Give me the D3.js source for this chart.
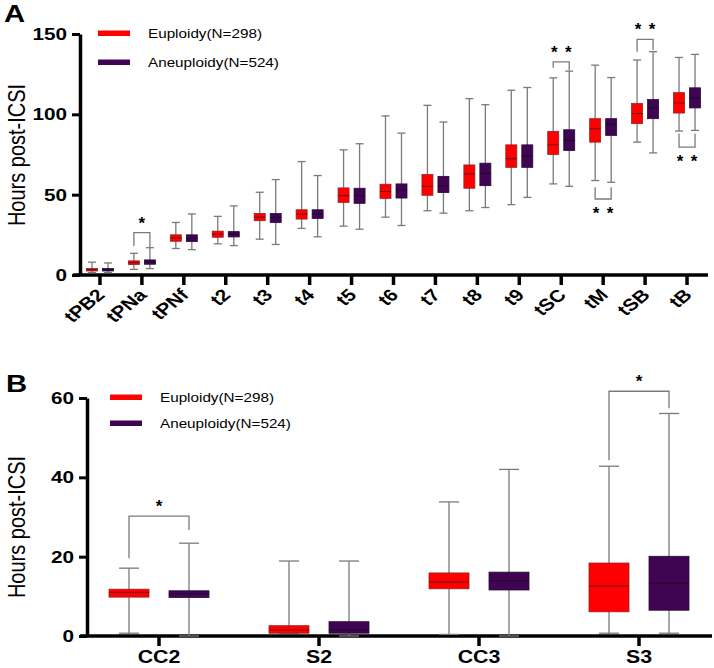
<!DOCTYPE html>
<html>
<head>
<meta charset="utf-8">
<script src="https://cdn.jsdelivr.net/npm/d3@7"></script>
<style>
body { margin: 0; background: #fff; }
text { font-family: "Liberation Sans", Arial, sans-serif; fill: #000; }
</style>
</head>
<body>
<script>
// panel A: time points, five-number summaries [min, q1, median, q3, max]
var stagesA = ["tPB2","tPNa","tPNf","t2","t3","t4","t5","t6","t7","t8","t9","tSC","tM","tSB","tB"];
var euploidyA = [
  [1.5, 2.5, 3.3, 4, 8], [3.5, 6.5, 7.7, 8.8, 13.5], [16.5, 21, 23.1, 25, 32.7],
  [19.4, 23.5, 25.4, 27.3, 36.5], [22.3, 33.8, 36, 38.3, 51.5], [29, 34.8, 37.9, 40.6, 70.6],
  [30.4, 45.2, 49.4, 54.2, 77.9], [36, 47.7, 52, 56.5, 99], [40, 49.6, 55.2, 62.5, 105.6],
  [40, 54, 62.9, 68.5, 109.8], [43.8, 67, 72.3, 81, 115], [56.7, 75, 81, 89.4, 122.7],
  [58.8, 82.7, 91, 97.3, 130.6], [82.7, 94.2, 100.4, 106.7, 133.8], [89.6, 100.8, 107, 113.5, 135.4]
];
var aneuploidyA = [
  [1.5, 2.5, 3.3, 4, 7.5], [4, 6.7, 8.1, 9.4, 17], [15.8, 20.8, 22.9, 25, 38],
  [18.3, 23.7, 25.4, 27, 43], [19, 32.7, 36, 38.3, 59.4], [23.8, 35.2, 38, 40.6, 61.9],
  [28.5, 44.6, 49.4, 54, 81.7], [30.8, 47.9, 52.9, 56.7, 88.3], [38.5, 51.3, 55.6, 61.4, 95.2],
  [42, 55.6, 63.3, 69.6, 106], [48.3, 67, 74, 81, 116.7], [55.2, 77.5, 83.8, 90.4, 126.9],
  [57.7, 86.9, 93.8, 97.3, 122.9], [76, 97.3, 104, 109.2, 139], [90, 104, 110.2, 116.5, 137.3]
];
var ticksA = [0, 50, 100, 150];
// significance brackets: stage, stars, bar level, leg ends (euploidy, aneuploidy)
var sigStagesA = ["tPNa","tSC","tM","tSB","tB"];
var sigLabelsA = ["*","**","**","**","**"];
var sigBarA = [26.4, 132.7, 47.3, 146.7, 79.6];
var sigEuA = [18, 129, 54.6, 139, 88];
var sigAnA = [17.5, 127.5, 54.6, 140, 88];

// panel B: intervals
var stagesB = ["CC2","S2","CC3","S3"];
var euploidyB = [[0.7, 9.8, 11, 11.8, 17.1], [0.7, 0.7, 1.5, 2.6, 18.9], [0.4, 11.9, 13.6, 15.9, 33.8], [0.7, 6.1, 12.6, 18.4, 42.8]];
var aneuploidyB = [[0, 9.7, 10.7, 11.4, 23.4], [0, 0.7, 1.5, 3.6, 18.9], [0, 11.6, 13.9, 16.1, 42], [0.7, 6.5, 13.3, 20.1, 56.1]];
var ticksB = [0, 20, 40, 60];
var sigStagesB = ["CC2","S3"];
var sigLabelsB = ["*","*"];
var sigBarB = [30.2, 61.7];
var sigEuB = [19.6, 44.3];
var sigAnB = [26.7, 57.4];

var groups = ["Euploidy(N=298)","Aneuploidy(N=524)"];
var colors = ["#ff0000","#3f0553"];
var SX = 1.22; // the figure is a bit stretched horizontally

var svg = d3.select("body").append("svg").attr("width",714).attr("height",668);

function stretchText(g, x, y, str, rot) {
  return g.append("text")
    .attr("transform","translate("+x+","+y+") scale("+SX+",1)"+(rot ? " rotate("+rot+")" : ""))
    .text(str);
}

function panel(opt) {
  var g = svg.append("g");
  var y = d3.scaleLinear().domain(opt.domain).range([opt.y0, opt.y1]);
  var x = d3.scaleBand().domain(opt.stages).range(opt.xr);
  var cx = function(s){ return x(s) + x.bandwidth()/2; };

  // y axis
  var ya = g.append("g").attr("transform","translate("+opt.ax+",0)")
    .call(d3.axisLeft(y).tickValues(opt.ticks).tickSize(8).tickSizeOuter(0).tickPadding(0));
  ya.select(".domain").attr("stroke","#000").attr("stroke-width",3.5);
  ya.selectAll(".tick line").attr("stroke","#000").attr("stroke-width",3);
  ya.selectAll(".tick text").attr("x",null)
    .attr("transform","translate(-13,0) scale("+SX+",1)")
    .attr("font-size",17).attr("font-weight","bold")
    .attr("font-family","Liberation Sans, Arial, sans-serif");

  // x axis
  var xa = g.append("g").attr("transform","translate(0,"+opt.y0+")")
    .call(d3.axisBottom(x).tickSize(opt.xtick).tickSizeOuter(0).tickFormat(""));
  xa.select(".domain").remove();
  xa.selectAll(".tick line").attr("stroke","#000").attr("stroke-width",3.5);
  g.append("line").attr("x1",opt.ax-7).attr("x2",opt.xend)
    .attr("y1",opt.y0).attr("y2",opt.y0).attr("stroke","#000").attr("stroke-width",3.5);

  // x labels
  opt.stages.forEach(function(s){
    var t;
    if (opt.rotate) {
      t = stretchText(g, cx(s)+6, opt.y0+21, s, -45).attr("text-anchor","end").attr("font-size",17);
    } else {
      t = stretchText(g, cx(s), opt.y0+27, s).attr("text-anchor","middle").attr("font-size",17.5);
    }
    t.attr("font-weight","bold");
  });

  // y label
  stretchText(g, opt.labX, opt.labY, "Hours post-ICSI", -90)
    .attr("text-anchor","middle").attr("font-size",20);

  // boxes
  [opt.eu, opt.an].forEach(function(data, k){
    var off = k === 0 ? -opt.off : opt.off;
    var bg = g.append("g").selectAll("g").data(data).enter().append("g")
      .attr("transform",function(d,i){ return "translate("+(cx(opt.stages[i])+off)+",0)"; });
    bg.append("line").attr("x1",0).attr("x2",0)
      .attr("y1",function(d){return y(d[0]);}).attr("y2",function(d){return y(d[4]);})
      .attr("stroke","#7a7a7a").attr("stroke-width",1.3);
    [0,4].forEach(function(j){
      bg.append("line").attr("x1",-opt.cap/2).attr("x2",opt.cap/2)
        .attr("y1",function(d){return y(d[j]);}).attr("y2",function(d){return y(d[j]);})
        .attr("stroke","#7a7a7a").attr("stroke-width",1.3);
    });
    bg.append("rect").attr("x",-opt.bw/2).attr("width",opt.bw)
      .attr("y",function(d){return y(d[3]);})
      .attr("height",function(d){return y(d[1]) - y(d[3]);})
      .attr("fill",colors[k]).attr("stroke",k === 0 ? "#9a2020" : "#2a0a3a").attr("stroke-width",0.8);
    bg.append("line").attr("x1",-opt.bw/2).attr("x2",opt.bw/2)
      .attr("y1",function(d){return y(d[2]);}).attr("y2",function(d){return y(d[2]);})
      .attr("stroke",k === 0 ? "#6a1010" : "#1e0628").attr("stroke-width",1);
  });

  // significance brackets
  opt.sigStages.forEach(function(s, i){
    var xl = cx(s) - opt.off, xr = cx(s) + opt.off, yb = y(opt.sigBar[i]);
    g.append("path")
      .attr("d","M"+xl+","+y(opt.sigEu[i])+"V"+yb+"H"+xr+"V"+y(opt.sigAn[i]))
      .attr("fill","none").attr("stroke","#7a7a7a").attr("stroke-width",1.3);
    var up = opt.sigBar[i] > opt.sigEu[i];
    var stars = opt.sigLabels[i].split("");
    stars.forEach(function(st, j){
      var sx = stars.length === 1 ? (xl+xr)/2 : (j === 0 ? xl + 1 : xr - 1);
      g.append("text").attr("x",sx).attr("y",up ? yb - 4 : yb + 20)
        .attr("text-anchor","middle").attr("font-size",17).attr("font-weight","bold")
        .attr("fill","#222").text(st);
    });
  });

  // legend
  groups.forEach(function(name, k){
    var ly = opt.legY + k*opt.legGap;
    g.append("rect").attr("x",opt.legX).attr("y",ly-2.5).attr("width",32).attr("height",5.5)
      .attr("fill",colors[k]);
    stretchText(g, opt.legX+50, ly+4.5, name).attr("font-size",12.5).attr("fill","#222");
  });

  // panel letter
  stretchText(g, opt.titX, opt.titY, opt.title)
    .attr("font-family","Liberation Serif, serif").attr("font-weight","bold").attr("font-size",24);
}

panel({
  stages: stagesA, eu: euploidyA, an: aneuploidyA, ticks: ticksA, domain: [0,150],
  y0: 275, y1: 34, xr: [79,708], ax: 80, xend: 708, xtick: 10, rotate: true,
  off: 8, bw: 11, cap: 8, labX: 25, labY: 155,
  sigStages: sigStagesA, sigLabels: sigLabelsA, sigBar: sigBarA, sigEu: sigEuA, sigAn: sigAnA,
  legX: 98, legY: 33, legGap: 29, titX: 4, titY: 22, title: "A"
});

panel({
  stages: stagesB, eu: euploidyB, an: aneuploidyB, ticks: ticksB, domain: [0,60],
  y0: 636, y1: 398, xr: [79,719], ax: 87, xend: 712, xtick: 10, rotate: false,
  off: 30, bw: 40, cap: 20, labX: 25, labY: 527,
  sigStages: sigStagesB, sigLabels: sigLabelsB, sigBar: sigBarB, sigEu: sigEuB, sigAn: sigAnB,
  legX: 110, legY: 397, legGap: 26, titX: 6, titY: 392, title: "B"
});
</script>
</body>
</html>
